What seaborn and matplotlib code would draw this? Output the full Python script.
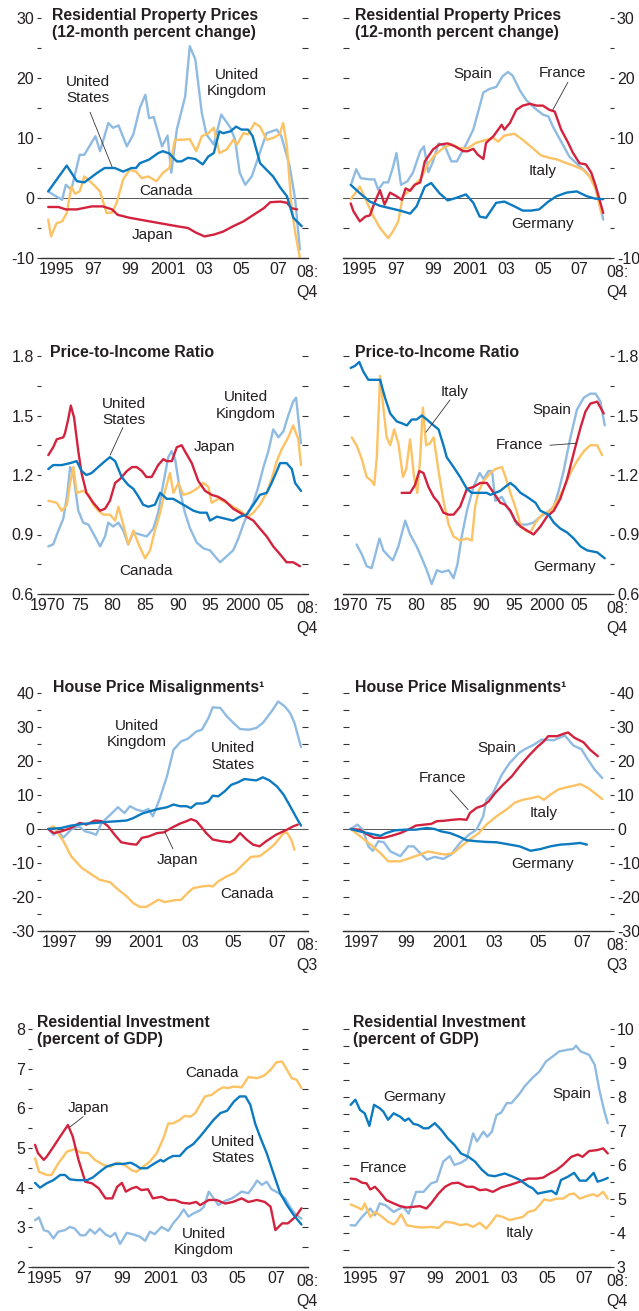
import matplotlib
matplotlib.use("Agg")
import pandas as pd
import matplotlib.pyplot as plt
import seaborn as sns
from matplotlib.ticker import MultipleLocator, NullFormatter, FormatStrFormatter

# CONFIG
W, H = 639, 1311
sns.set_theme(style="white")
plt.rcParams["font.family"] = ["Liberation Sans", "DejaVu Sans"]
plt.rcParams["axes.unicode_minus"] = False

DARK = "#0c7ac0"
LIGHT = "#8fbbe2"
RED = "#d3223e"
YELLOW = "#fcc263"
TXT = "#231f20"

# ==============================
# DATA  (year, value)
# ==============================
# Panel 1: residential property prices, 12-month % change
p1_us = [(1995.05, 1.1), (1996.05, 5.4), (1996.6, 2.8), (1997.0, 2.6), (1997.7, 4.2), (1998.1, 5.0),
         (1998.65, 5.0), (1999.1, 4.4), (1999.55, 5.0), (1999.8, 5.0), (2000.0, 5.8), (2000.5, 6.4),
         (2001.0, 7.5), (2001.25, 7.8), (2001.6, 7.4), (2002.0, 6.1), (2002.25, 6.1), (2002.6, 6.7),
         (2003.0, 6.5), (2003.4, 5.6), (2003.7, 6.9), (2004.0, 7.5), (2004.3, 11.1), (2004.5, 10.8),
         (2004.9, 11.1), (2005.2, 11.9), (2005.5, 11.4), (2005.85, 11.4), (2006.1, 10.3), (2006.5, 5.8),
         (2006.85, 4.7), (2007.2, 3.6), (2007.6, 1.7), (2007.95, 0.3), (2008.3, -3.3), (2008.75, -4.7)]
p1_uk = [(1995.05, 1.1), (1995.3, 0.6), (1995.8, -0.3), (1996.0, 2.2), (1996.3, 1.4), (1996.75, 7.2),
         (1997.0, 7.2), (1997.6, 10.3), (1997.85, 7.8), (1998.3, 12.5), (1998.55, 11.7), (1998.85, 12.1),
         (1999.3, 8.6), (1999.65, 10.6), (2000.0, 15.0), (2000.3, 17.2), (2000.5, 13.3), (2000.75, 13.5),
         (2001.2, 8.6), (2001.5, 10.4), (2001.7, 4.2), (2002.0, 11.4), (2002.45, 16.9), (2002.7, 25.3),
         (2003.0, 23.1), (2003.35, 14.2), (2003.6, 10.6), (2004.0, 8.9), (2004.4, 13.9), (2004.9, 11.7),
         (2005.15, 9.7), (2005.4, 4.2), (2005.7, 2.2), (2006.05, 3.6), (2006.85, 10.8), (2007.4, 11.4),
         (2007.65, 10.3), (2008.1, 5.3), (2008.4, -0.3), (2008.65, -8.6)]
p1_ca = [(1995.05, -3.6), (1995.2, -6.4), (1995.5, -4.2), (1995.8, -3.9), (1996.05, -2.5), (1996.3, 1.9),
         (1996.5, 0.7), (1996.75, 1.1), (1997.0, 3.6), (1997.2, 3.1), (1997.6, 1.9), (1997.85, 1.1),
         (1998.2, -2.5), (1998.5, -2.4), (1998.75, -0.8), (1999.1, 3.1), (1999.45, 4.7), (1999.8, 4.4),
         (2000.1, 3.3), (2000.45, 3.6), (2000.9, 2.8), (2001.25, 4.2), (2001.6, 5.0), (2001.9, 9.7),
         (2002.25, 9.7), (2002.7, 9.8), (2003.05, 7.8), (2003.35, 10.3), (2003.7, 10.8), (2004.0, 11.7),
         (2004.3, 7.5), (2004.7, 8.1), (2005.05, 9.7), (2005.25, 8.9), (2005.6, 10.8), (2005.85, 10.6),
         (2006.2, 12.5), (2006.5, 11.9), (2006.85, 9.7), (2007.2, 10.0), (2007.55, 10.6), (2007.75, 12.5),
         (2007.95, 8.6), (2008.2, -1.4), (2008.4, -5.8), (2008.65, -10.0)]
p1_jp = [(1995.05, -1.5), (1995.6, -1.5), (1996.0, -1.9), (1996.6, -1.9), (1997.4, -1.4), (1998.0, -1.4),
         (1998.5, -1.9), (1998.8, -2.8), (1999.45, -3.3), (2000.0, -3.6), (2000.9, -4.1), (2001.45, -4.4),
         (2002.0, -4.7), (2002.6, -5.0), (2003.05, -5.8), (2003.5, -6.4), (2004.0, -6.1), (2004.5, -5.6),
         (2005.05, -4.7), (2005.6, -3.9), (2006.15, -2.8), (2006.7, -1.7), (2007.05, -0.7), (2007.6, -0.6),
         (2007.95, -0.8), (2008.2, -1.7), (2008.5, -1.9)]

# Panel 2
p2_de = [(1995.0, 2.2), (1995.5, 0.8), (1996.05, -0.6), (1996.6, -1.3), (1997.15, -1.7), (1997.7, -2.1),
         (1998.25, -2.6), (1998.6, -1.4), (1999.05, 1.9), (1999.4, 2.5), (1999.85, 0.8), (2000.3, -0.4),
         (2000.75, 0.0), (2001.3, 0.6), (2001.7, -0.8), (2002.05, -3.1), (2002.4, -3.3), (2002.95, -0.8),
         (2003.4, -0.6), (2003.95, -1.4), (2004.4, -2.1), (2004.85, -2.1), (2005.3, -1.9), (2005.8, -0.6),
         (2006.25, 0.3), (2006.8, 0.9), (2007.35, 1.1), (2007.9, 0.3), (2008.35, -0.1), (2008.8, -0.2)]
p2_es = [(1995.05, 2.5), (1995.3, 4.8), (1995.55, 3.3), (1996.05, 3.1), (1996.3, 3.1), (1996.5, 1.4),
         (1996.8, 2.6), (1997.05, 2.6), (1997.3, 5.0), (1997.5, 7.5), (1997.75, 2.2), (1998.1, 2.8),
         (1998.4, 4.2), (1998.8, 7.8), (1999.0, 8.6), (1999.25, 4.3), (1999.5, 6.1), (1999.8, 9.1),
         (2000.15, 8.6), (2000.5, 6.1), (2000.8, 6.1), (2001.3, 8.9), (2001.7, 11.4), (2001.95, 14.2),
         (2002.25, 17.6), (2002.6, 18.2), (2002.95, 18.5), (2003.3, 20.3), (2003.6, 21.0), (2003.85, 20.4),
         (2004.25, 17.9), (2004.6, 16.3), (2005.05, 15.0), (2005.5, 13.9), (2005.8, 13.6), (2006.05, 11.9),
         (2006.5, 9.4), (2006.95, 6.9), (2007.4, 5.6), (2007.85, 4.4), (2008.25, 2.8), (2008.5, 0.3),
         (2008.8, -3.6)]
p2_fr = [(1995.0, -0.9), (1995.15, -2.2), (1995.5, -3.9), (1995.8, -3.1), (1996.05, -2.9), (1996.3, -0.8),
         (1996.6, 1.3), (1996.85, -1.1), (1997.15, 0.9), (1997.5, 0.3), (1997.8, -0.3), (1998.0, 1.6),
         (1998.25, 1.2), (1998.5, 2.2), (1998.8, 2.6), (1999.05, 6.1), (1999.5, 8.1), (1999.85, 8.9),
         (2000.3, 9.1), (2000.7, 8.6), (2001.15, 7.8), (2001.4, 7.8), (2001.7, 8.2), (2001.95, 7.2),
         (2002.25, 6.5), (2002.4, 9.2), (2002.8, 10.3), (2003.25, 12.2), (2003.4, 11.4), (2003.7, 12.5),
         (2004.05, 14.7), (2004.4, 15.4), (2004.8, 15.7), (2005.15, 15.4), (2005.5, 15.4), (2005.85, 14.7),
         (2006.15, 14.4), (2006.5, 11.4), (2006.85, 9.4), (2007.15, 7.5), (2007.5, 5.8), (2007.85, 5.6),
         (2008.15, 4.2), (2008.4, 1.9), (2008.8, -2.5)]
p2_it = [(1995.0, -0.2), (1995.25, 0.8), (1995.5, 1.9), (1995.9, -0.8), (1996.25, -3.1), (1996.6, -5.0),
         (1997.05, -6.7), (1997.3, -5.6), (1997.6, -3.9), (1997.85, 0.3), (1998.15, 1.1), (1998.5, 2.2),
         (1998.85, 3.3), (1999.25, 5.8), (1999.6, 7.2), (2000.05, 8.3), (2000.5, 9.0), (2000.95, 8.3),
         (2001.4, 8.3), (2001.85, 9.2), (2002.3, 9.6), (2002.8, 10.0), (2003.05, 9.4), (2003.4, 10.4),
         (2003.95, 10.7), (2004.4, 9.7), (2004.95, 8.3), (2005.4, 7.1), (2005.85, 6.7), (2006.3, 6.4),
         (2006.8, 5.8), (2007.25, 5.3), (2007.7, 4.7), (2008.05, 3.6), (2008.4, 1.4), (2008.7, -2.5)]

# Panel 3: price-to-income ratio
p3_us = [(1970.15, 1.23), (1970.9, 1.25), (1972.2, 1.25), (1973.5, 1.26), (1974.5, 1.27), (1975.25, 1.22),
         (1976.0, 1.20), (1976.8, 1.21), (1977.8, 1.24), (1978.85, 1.27), (1979.6, 1.29), (1980.4, 1.27),
         (1981.4, 1.19), (1982.4, 1.15), (1983.2, 1.13), (1984.0, 1.09), (1984.7, 1.05), (1985.5, 1.04),
         (1986.5, 1.05), (1987.3, 1.11), (1988.3, 1.08), (1989.3, 1.08), (1990.35, 1.06), (1991.4, 1.04),
         (1992.4, 1.02), (1993.4, 1.01), (1994.45, 1.01), (1994.95, 0.97), (1996.0, 0.99), (1997.25, 0.98),
         (1998.5, 0.97), (1999.55, 0.99), (2000.55, 1.0), (2001.6, 1.05), (2002.6, 1.10), (2003.65, 1.11),
         (2004.4, 1.16), (2005.2, 1.22), (2005.7, 1.26), (2006.7, 1.26), (2007.5, 1.23), (2008.0, 1.16),
         (2008.9, 1.12)]
p3_jp = [(1970.15, 1.30), (1970.9, 1.34), (1971.45, 1.38), (1972.45, 1.39), (1972.7, 1.41), (1973.2, 1.48),
         (1973.6, 1.55), (1974.1, 1.49), (1974.75, 1.32), (1975.25, 1.21), (1976.0, 1.11), (1977.05, 1.06),
         (1978.1, 1.02), (1978.85, 1.03), (1979.6, 1.07), (1980.4, 1.16), (1981.15, 1.18), (1982.2, 1.22),
         (1983.0, 1.24), (1983.7, 1.24), (1984.5, 1.22), (1985.2, 1.19), (1986.0, 1.19), (1987.0, 1.25),
         (1987.8, 1.28), (1988.3, 1.27), (1989.1, 1.27), (1989.85, 1.34), (1990.6, 1.35), (1991.1, 1.32),
         (1992.15, 1.26), (1993.15, 1.17), (1994.2, 1.12), (1995.2, 1.10), (1996.2, 1.09), (1997.25, 1.07),
         (1998.5, 1.03), (1999.55, 1.01), (2000.55, 0.99), (2001.6, 0.97), (2002.6, 0.93), (2003.65, 0.89),
         (2004.65, 0.84), (2005.7, 0.80), (2006.7, 0.76), (2007.7, 0.76), (2008.75, 0.74)]
p3_ca = [(1970.15, 1.07), (1971.45, 1.06), (1972.2, 1.02), (1973.0, 1.05), (1973.5, 1.16), (1974.0, 1.24),
         (1974.5, 1.11), (1975.5, 1.12), (1976.3, 1.10), (1977.05, 1.05), (1977.8, 1.02), (1978.6, 1.0),
         (1979.6, 1.0), (1980.4, 0.97), (1980.9, 1.04), (1981.65, 0.95), (1982.4, 0.85), (1983.2, 0.92),
         (1984.0, 0.85), (1985.0, 0.78), (1985.75, 0.82), (1986.5, 0.92), (1987.3, 1.01), (1988.05, 1.12),
         (1988.8, 1.21), (1989.35, 1.11), (1990.1, 1.16), (1990.85, 1.10), (1991.9, 1.11), (1992.9, 1.13),
         (1993.95, 1.16), (1994.7, 1.14), (1995.2, 1.06), (1996.25, 1.08), (1997.5, 1.06), (1998.5, 1.04),
         (1999.55, 1.02), (2000.8, 0.99), (2001.6, 1.01), (2002.6, 1.05), (2003.65, 1.11), (2004.4, 1.18),
         (2005.2, 1.27), (2005.95, 1.33), (2006.95, 1.39), (2007.7, 1.45), (2008.5, 1.38), (2008.9, 1.25)]
p3_uk = [(1970.15, 0.84), (1970.9, 0.85), (1971.7, 0.92), (1972.45, 0.98), (1973.0, 1.09), (1973.5, 1.24),
         (1974.0, 1.20), (1974.75, 1.02), (1975.5, 0.96), (1976.3, 0.95), (1977.3, 0.89), (1978.1, 0.84),
         (1978.85, 0.89), (1979.35, 0.96), (1980.1, 0.94), (1980.9, 0.96), (1981.65, 0.92), (1982.4, 0.85),
         (1983.2, 0.91), (1984.2, 0.90), (1985.25, 0.89), (1986.25, 0.93), (1987.0, 1.01), (1987.8, 1.16),
         (1988.55, 1.29), (1989.05, 1.32), (1989.6, 1.28), (1990.35, 1.12), (1991.1, 1.01), (1991.9, 0.93),
         (1992.9, 0.86), (1993.95, 0.83), (1994.95, 0.82), (1995.7, 0.79), (1996.5, 0.76), (1997.5, 0.79),
         (1998.5, 0.82), (1999.3, 0.88), (2000.05, 0.95), (2000.8, 1.01), (2001.6, 1.06), (2002.35, 1.14),
         (2003.15, 1.24), (2003.9, 1.32), (2004.65, 1.43), (2005.45, 1.39), (2006.2, 1.42), (2006.95, 1.50),
         (2007.7, 1.57), (2008.15, 1.59), (2008.9, 1.36)]

# Panel 4
p4_de = [(1970.0, 1.74), (1970.65, 1.75), (1971.3, 1.77), (1971.95, 1.72), (1972.7, 1.68), (1973.5, 1.68),
         (1974.0, 1.68), (1974.5, 1.68), (1975.25, 1.59), (1976.05, 1.51), (1977.05, 1.47), (1977.9, 1.46),
         (1978.6, 1.45), (1979.35, 1.48), (1980.1, 1.48), (1980.9, 1.50), (1981.65, 1.48), (1982.7, 1.45),
         (1983.45, 1.43), (1984.2, 1.35), (1984.7, 1.29), (1985.75, 1.24), (1986.75, 1.19), (1987.8, 1.13),
         (1988.55, 1.11), (1989.6, 1.11), (1990.85, 1.11), (1991.4, 1.10), (1992.15, 1.11), (1992.9, 1.12),
         (1993.65, 1.14), (1994.45, 1.16), (1995.2, 1.14), (1996.0, 1.11), (1997.0, 1.09), (1998.3, 1.06),
         (1999.05, 1.02), (2000.3, 1.0), (2001.1, 0.96), (2002.1, 0.93), (2003.15, 0.91), (2004.15, 0.88),
         (2005.2, 0.84), (2006.2, 0.82), (2007.75, 0.81), (2008.9, 0.78)]
p4_it = [(1970.15, 1.39), (1970.9, 1.35), (1971.7, 1.28), (1972.45, 1.19), (1973.2, 1.17), (1973.6, 1.15),
         (1974.0, 1.29), (1974.5, 1.70), (1975.0, 1.54), (1975.5, 1.39), (1976.05, 1.35), (1976.65, 1.43),
         (1977.3, 1.36), (1978.0, 1.19), (1978.5, 1.23), (1979.1, 1.38), (1979.7, 1.19), (1980.2, 1.11),
         (1980.65, 1.29), (1981.05, 1.54), (1981.55, 1.35), (1982.15, 1.36), (1982.7, 1.39), (1983.45, 1.22),
         (1984.2, 1.07), (1985.0, 0.95), (1985.75, 0.89), (1986.75, 0.87), (1987.8, 0.88), (1988.55, 0.87),
         (1989.05, 1.04), (1989.6, 1.12), (1990.35, 1.17), (1991.4, 1.21), (1992.15, 1.23), (1993.15, 1.24),
         (1993.7, 1.19), (1994.45, 1.11), (1995.2, 1.04), (1996.0, 0.95), (1996.75, 0.92), (1997.5, 0.91),
         (1998.3, 0.96), (1999.3, 1.0), (2000.6, 1.02), (2001.6, 1.07), (2002.6, 1.13), (2003.65, 1.21),
         (2004.65, 1.27), (2005.7, 1.32), (2006.7, 1.35), (2007.75, 1.35), (2008.5, 1.30)]
p4_fr = [(1977.8, 1.11), (1978.6, 1.11), (1979.1, 1.11), (1979.85, 1.15), (1980.5, 1.22), (1981.15, 1.21),
         (1981.9, 1.14), (1982.7, 1.09), (1983.45, 1.06), (1984.2, 1.01), (1985.0, 1.0), (1985.75, 1.0),
         (1986.75, 1.04), (1987.8, 1.13), (1988.8, 1.14), (1989.85, 1.16), (1990.85, 1.16), (1991.9, 1.11),
         (1992.9, 1.06), (1993.65, 1.05), (1994.45, 1.02), (1995.2, 0.97), (1996.0, 0.94), (1997.0, 0.92),
         (1998.0, 0.90), (1999.05, 0.94), (2000.05, 0.99), (2001.1, 1.02), (2002.1, 1.08), (2003.15, 1.18),
         (2004.15, 1.31), (2005.2, 1.44), (2005.95, 1.52), (2006.7, 1.56), (2007.75, 1.57), (2008.75, 1.51)]
p4_es = [(1970.9, 0.85), (1971.7, 0.80), (1972.45, 0.74), (1973.2, 0.73), (1973.7, 0.79), (1974.4, 0.88),
         (1975.0, 0.82), (1975.8, 0.79), (1976.45, 0.77), (1977.3, 0.84), (1978.35, 0.97), (1979.1, 0.90),
         (1980.1, 0.84), (1980.9, 0.78), (1981.65, 0.72), (1982.4, 0.65), (1983.2, 0.72), (1983.95, 0.71),
         (1985.0, 0.72), (1985.75, 0.68), (1986.35, 0.75), (1987.0, 0.89), (1987.8, 1.02), (1988.8, 1.14),
         (1989.75, 1.21), (1990.35, 1.18), (1991.1, 1.22), (1991.65, 1.22), (1992.15, 1.07), (1993.15, 1.09),
         (1993.95, 1.04), (1994.7, 1.0), (1995.45, 0.95), (1996.25, 0.95), (1997.0, 0.95), (1998.0, 0.96),
         (1999.05, 0.99), (2000.05, 1.01), (2001.1, 1.04), (2001.85, 1.12), (2002.6, 1.22), (2003.65, 1.39),
         (2004.65, 1.53), (2005.7, 1.59), (2006.7, 1.61), (2007.5, 1.61), (2008.25, 1.57), (2008.9, 1.45)]

# Panel 5: house price misalignments
p5_uk = [(1997.0, 0.0), (1997.25, -1.7), (1997.45, -0.7), (1997.7, -2.5), (1998.05, -0.2), (1998.4, 0.8),
         (1998.7, -0.7), (1999.0, -1.2), (1999.2, -1.7), (1999.45, 1.8), (1999.85, 4.2), (2000.2, 6.4),
         (2000.5, 4.7), (2000.75, 6.7), (2001.05, 5.7), (2001.35, 5.2), (2001.6, 5.9), (2001.8, 3.7),
         (2002.1, 8.6), (2002.45, 15.5), (2002.75, 23.3), (2003.1, 25.8), (2003.4, 26.5), (2003.8, 28.7),
         (2004.05, 29.2), (2004.35, 32.6), (2004.55, 35.8), (2004.9, 35.6), (2005.2, 33.1), (2005.5, 31.2),
         (2005.8, 29.4), (2006.2, 29.2), (2006.55, 29.7), (2006.85, 31.2), (2007.25, 34.6), (2007.55, 37.5),
         (2007.85, 36.1), (2008.1, 34.1), (2008.3, 31.2), (2008.6, 24.1)]
p5_us = [(1997.0, 0.0), (1997.6, 0.3), (1998.05, 1.0), (1998.6, 1.5), (1999.2, 1.8), (1999.7, 2.1),
         (2000.2, 2.3), (2000.6, 2.5), (2000.9, 3.2), (2001.3, 4.5), (2001.65, 5.2), (2002.05, 5.9),
         (2002.45, 6.4), (2002.75, 7.2), (2003.05, 6.7), (2003.35, 6.7), (2003.55, 6.2), (2003.8, 7.5),
         (2004.1, 7.5), (2004.35, 8.1), (2004.55, 9.8), (2004.8, 9.6), (2005.1, 11.1), (2005.4, 13.0),
         (2005.7, 13.7), (2006.0, 14.7), (2006.25, 14.5), (2006.55, 14.3), (2006.85, 15.2), (2007.15, 14.3),
         (2007.5, 12.5), (2007.8, 10.1), (2008.1, 6.7), (2008.4, 3.2), (2008.6, 1.0)]
p5_jp = [(1997.0, 0.0), (1997.25, -1.2), (1997.6, -0.7), (1998.05, 0.3), (1998.45, 1.8), (1998.75, 1.3),
         (1999.15, 2.5), (1999.45, 2.3), (1999.75, 0.8), (2000.05, -1.7), (2000.35, -3.9), (2000.75, -4.4),
         (2001.05, -4.6), (2001.3, -2.6), (2001.6, -2.2), (2002.0, -1.2), (2002.3, -1.0), (2002.65, 0.3),
         (2003.05, 1.6), (2003.35, 2.3), (2003.55, 2.9), (2003.8, 2.3), (2004.0, 0.8), (2004.25, -1.2),
         (2004.55, -3.1), (2004.95, -3.6), (2005.35, -3.9), (2005.55, -3.1), (2005.8, -1.2), (2006.1, -3.1),
         (2006.4, -4.6), (2006.7, -5.1), (2007.0, -3.6), (2007.45, -1.7), (2007.95, -0.2), (2008.25, 0.8),
         (2008.45, 1.3)]
p5_ca = [(1997.0, 0.0), (1997.25, 0.8), (1997.45, -1.2), (1997.7, -3.6), (1998.05, -8.0), (1998.55, -11.5),
         (1999.0, -13.4), (1999.35, -14.9), (1999.85, -15.7), (2000.2, -17.8), (2000.6, -19.8), (2000.9, -21.8),
         (2001.2, -22.9), (2001.5, -22.9), (2001.8, -21.8), (2002.05, -20.8), (2002.35, -21.5), (2002.75, -21.0),
         (2003.1, -20.8), (2003.4, -18.8), (2003.65, -17.4), (2004.05, -16.9), (2004.35, -16.7), (2004.55, -16.9),
         (2004.8, -15.4), (2005.2, -13.9), (2005.55, -12.9), (2005.85, -11.0), (2006.3, -8.2), (2006.7, -8.0),
         (2007.1, -6.1), (2007.4, -4.4), (2007.8, -1.2), (2007.95, -1.0), (2008.15, -3.1), (2008.3, -6.1)]

# Panel 6
p6_de = [(1997.0, 0.0), (1997.4, -0.7), (1997.9, -1.4), (1998.35, -2.0), (1998.6, -1.2), (1999.0, -0.4),
         (1999.45, -0.2), (1999.95, -0.2), (2000.45, 0.3), (2000.8, 0.0), (2001.1, -0.7), (2001.5, -1.2),
         (2001.9, -2.2), (2002.25, -3.3), (2002.7, -3.6), (2003.15, -3.8), (2003.6, -3.9), (2004.05, -4.4),
         (2004.65, -5.1), (2005.15, -6.4), (2005.6, -5.9), (2006.05, -5.1), (2006.5, -4.6), (2006.95, -4.4),
         (2007.4, -4.1), (2007.7, -4.6)]
p6_fr = [(1997.0, 0.0), (1997.4, -0.2), (1997.7, -1.4), (1998.05, -2.6), (1998.5, -2.6), (1998.85, -2.0),
         (1999.25, -1.2), (1999.6, -0.2), (1999.95, 1.0), (2000.35, 1.3), (2000.65, 1.5), (2000.9, 2.3),
         (2001.2, 2.4), (2001.6, 2.7), (2001.95, 2.9), (2002.25, 2.7), (2002.4, 4.7), (2002.7, 6.2),
         (2003.0, 6.9), (2003.25, 8.1), (2003.55, 10.6), (2003.9, 13.0), (2004.3, 15.5), (2004.65, 18.4),
         (2005.05, 21.4), (2005.45, 24.1), (2005.75, 25.8), (2005.95, 27.3), (2006.35, 27.3), (2006.65, 28.0),
         (2006.85, 28.4), (2007.15, 26.8), (2007.55, 25.5), (2007.85, 23.3), (2008.2, 21.4)]
p6_es = [(1997.0, 0.0), (1997.3, 1.3), (1997.55, -0.2), (1997.8, -5.1), (1998.0, -6.4), (1998.25, -3.6),
         (1998.5, -3.9), (1998.8, -6.6), (1999.25, -8.0), (1999.6, -5.1), (1999.85, -5.1), (2000.15, -7.1),
         (2000.45, -9.0), (2000.8, -8.2), (2001.2, -8.8), (2001.55, -7.5), (2001.95, -4.1), (2002.35, -1.7),
         (2002.7, -0.2), (2003.0, 3.7), (2003.15, 8.6), (2003.45, 10.6), (2003.85, 16.0), (2004.2, 19.4),
         (2004.65, 22.5), (2004.9, 23.5), (2005.3, 24.8), (2005.65, 26.3), (2006.2, 26.1), (2006.7, 27.5),
         (2007.1, 24.5), (2007.45, 23.5), (2007.75, 20.4), (2008.05, 17.5), (2008.4, 15.0)]
p6_it = [(1997.0, 0.0), (1997.4, -2.0), (1997.9, -4.6), (1998.35, -7.1), (1998.7, -9.5), (1999.25, -9.5),
         (1999.7, -8.5), (2000.15, -7.5), (2000.5, -6.6), (2000.9, -7.1), (2001.25, -7.5), (2001.65, -7.1),
         (2002.0, -5.1), (2002.4, -3.1), (2002.8, -1.2), (2003.15, 1.3), (2003.6, 3.7), (2004.05, 5.7),
         (2004.45, 7.8), (2004.8, 8.6), (2005.2, 9.1), (2005.5, 9.6), (2005.75, 8.6), (2006.05, 10.1),
         (2006.4, 11.6), (2006.8, 12.3), (2007.1, 12.7), (2007.4, 13.2), (2007.75, 12.1), (2008.05, 10.6),
         (2008.4, 8.8)]

# Panel 7: residential investment, percent of GDP
p7_jp = [(1995.0, 5.08), (1995.15, 4.87), (1995.45, 4.70), (1995.6, 4.78), (1995.95, 5.03), (1996.3, 5.29),
         (1996.7, 5.58), (1996.95, 5.29), (1997.25, 4.70), (1997.6, 4.15), (1997.95, 4.11), (1998.3, 3.98),
         (1998.65, 3.73), (1999.0, 3.73), (1999.25, 4.02), (1999.5, 4.12), (1999.7, 3.90), (2000.0, 3.98),
         (2000.25, 4.02), (2000.5, 3.94), (2000.85, 3.96), (2001.1, 3.73), (2001.55, 3.77), (2001.9, 3.69),
         (2002.25, 3.69), (2002.6, 3.62), (2003.0, 3.60), (2003.35, 3.64), (2003.55, 3.56), (2004.0, 3.69),
         (2004.4, 3.69), (2004.85, 3.60), (2005.25, 3.64), (2005.7, 3.73), (2006.05, 3.64), (2006.5, 3.69),
         (2006.9, 3.64), (2007.2, 3.52), (2007.45, 2.93), (2007.8, 3.10), (2008.1, 3.10), (2008.5, 3.27),
         (2008.8, 3.48)]
p7_ca = [(1995.0, 4.74), (1995.2, 4.40), (1995.6, 4.32), (1995.85, 4.32), (1996.2, 4.61), (1996.65, 4.91),
         (1997.05, 4.97), (1997.4, 4.88), (1997.75, 4.87), (1998.1, 4.70), (1998.55, 4.57), (1998.9, 4.53),
         (1999.25, 4.63), (1999.65, 4.57), (2000.0, 4.44), (2000.25, 4.40), (2000.6, 4.53), (2000.95, 4.66),
         (2001.3, 4.87), (2001.65, 5.25), (2001.9, 5.62), (2002.15, 5.62), (2002.5, 5.71), (2002.75, 5.81),
         (2003.05, 5.79), (2003.3, 5.88), (2003.55, 6.09), (2003.8, 6.30), (2004.15, 6.34), (2004.5, 6.47),
         (2004.75, 6.53), (2005.0, 6.51), (2005.3, 6.55), (2005.7, 6.53), (2006.05, 6.79), (2006.5, 6.76),
         (2006.85, 6.82), (2007.2, 6.97), (2007.5, 7.16), (2007.8, 7.18), (2008.05, 6.97), (2008.3, 6.76),
         (2008.55, 6.72), (2008.8, 6.51)]
p7_us = [(1995.0, 4.12), (1995.25, 4.0), (1995.6, 4.11), (1995.95, 4.19), (1996.3, 4.32), (1996.55, 4.32),
         (1996.8, 4.21), (1997.15, 4.19), (1997.7, 4.19), (1998.0, 4.26), (1998.35, 4.40), (1998.7, 4.53),
         (1999.15, 4.60), (1999.6, 4.60), (1999.95, 4.63), (2000.2, 4.57), (2000.45, 4.49), (2000.8, 4.49),
         (2001.15, 4.60), (2001.5, 4.70), (2001.65, 4.66), (2001.9, 4.74), (2002.15, 4.80), (2002.5, 4.80),
         (2002.85, 4.99), (2003.2, 5.10), (2003.55, 5.29), (2003.9, 5.50), (2004.25, 5.71), (2004.6, 5.88),
         (2004.95, 5.94), (2005.3, 6.17), (2005.6, 6.30), (2005.9, 6.30), (2006.15, 6.09), (2006.4, 5.62),
         (2006.65, 5.29), (2007.0, 4.87), (2007.35, 4.36), (2007.7, 3.86), (2008.05, 3.56), (2008.4, 3.31),
         (2008.8, 3.07)]
p7_uk = [(1995.0, 3.18), (1995.2, 3.25), (1995.45, 2.93), (1995.7, 2.89), (1995.95, 2.72), (1996.2, 2.89),
         (1996.55, 2.93), (1996.8, 3.01), (1997.05, 2.97), (1997.35, 2.80), (1997.6, 2.80), (1997.85, 2.95),
         (1998.1, 2.84), (1998.35, 2.97), (1998.65, 2.82), (1998.9, 2.76), (1999.15, 2.86), (1999.4, 2.58),
         (1999.75, 2.86), (2000.1, 2.82), (2000.45, 2.76), (2000.7, 2.66), (2000.95, 2.89), (2001.2, 2.83),
         (2001.55, 3.01), (2001.9, 2.91), (2002.15, 3.10), (2002.45, 3.27), (2002.7, 3.45), (2002.95, 3.27),
         (2003.2, 3.35), (2003.55, 3.43), (2003.75, 3.52), (2004.0, 3.90), (2004.25, 3.73), (2004.5, 3.56),
         (2004.85, 3.67), (2005.2, 3.73), (2005.45, 3.81), (2005.7, 3.90), (2006.05, 3.86), (2006.3, 4.02),
         (2006.5, 4.18), (2006.75, 4.07), (2007.0, 4.15), (2007.25, 3.96), (2007.6, 3.87), (2007.95, 3.73),
         (2008.2, 3.52), (2008.45, 3.35), (2008.8, 3.22)]

# Panel 8
p8_de = [(1995.0, 7.77), (1995.25, 7.92), (1995.5, 7.62), (1995.75, 7.52), (1996.0, 7.15), (1996.25, 7.77),
         (1996.55, 7.67), (1996.75, 7.57), (1997.0, 7.33), (1997.3, 7.52), (1997.65, 7.42), (1997.9, 7.30),
         (1998.1, 7.37), (1998.35, 7.21), (1998.6, 7.18), (1998.9, 7.08), (1999.15, 7.08), (1999.5, 7.23),
         (1999.85, 7.03), (2000.2, 6.78), (2000.55, 6.59), (2000.9, 6.34), (2001.3, 6.24), (2001.65, 6.10),
         (2002.0, 5.87), (2002.35, 5.70), (2002.7, 5.67), (2003.25, 5.75), (2003.7, 5.65), (2004.05, 5.56),
         (2004.5, 5.38), (2004.75, 5.31), (2005.0, 5.16), (2005.45, 5.21), (2005.75, 5.24), (2006.0, 5.14),
         (2006.25, 5.56), (2006.6, 5.65), (2006.95, 5.77), (2007.25, 5.54), (2007.6, 5.54), (2008.0, 5.77),
         (2008.2, 5.51), (2008.5, 5.56), (2008.75, 5.62)]
p8_es = [(1995.0, 4.23), (1995.25, 4.22), (1995.6, 4.47), (1996.05, 4.72), (1996.3, 4.52), (1996.55, 4.87),
         (1996.85, 4.82), (1997.3, 4.62), (1997.8, 4.77), (1998.1, 4.57), (1998.5, 5.21), (1998.9, 5.21),
         (1999.3, 5.46), (1999.6, 5.51), (1999.95, 6.10), (2000.3, 6.26), (2000.55, 6.0), (2000.9, 6.07),
         (2001.2, 6.17), (2001.55, 6.93), (2001.75, 6.69), (2002.1, 6.98), (2002.3, 6.83), (2002.55, 6.98),
         (2002.8, 7.47), (2003.05, 7.54), (2003.35, 7.82), (2003.6, 7.82), (2004.05, 8.11), (2004.3, 8.31),
         (2004.75, 8.58), (2005.1, 8.75), (2005.45, 9.05), (2005.8, 9.19), (2006.15, 9.34), (2006.6, 9.39),
         (2006.9, 9.41), (2007.05, 9.51), (2007.3, 9.34), (2007.75, 9.24), (2008.05, 8.95), (2008.3, 8.21),
         (2008.55, 7.62), (2008.75, 7.23)]
p8_fr = [(1995.0, 5.60), (1995.3, 5.58), (1995.6, 5.48), (1995.85, 5.46), (1996.05, 5.28), (1996.3, 5.36),
         (1996.55, 5.21), (1996.9, 4.97), (1997.3, 4.87), (1997.65, 4.79), (1998.0, 4.75), (1998.35, 4.77),
         (1998.7, 4.79), (1999.05, 4.72), (1999.3, 4.87), (1999.7, 5.16), (2000.05, 5.36), (2000.4, 5.46),
         (2000.75, 5.48), (2001.2, 5.36), (2001.55, 5.36), (2001.9, 5.26), (2002.25, 5.28), (2002.6, 5.21),
         (2003.05, 5.34), (2003.5, 5.41), (2004.05, 5.51), (2004.5, 5.60), (2004.95, 5.60), (2005.3, 5.63),
         (2005.65, 5.75), (2006.0, 5.85), (2006.35, 6.0), (2006.8, 6.24), (2007.15, 6.31), (2007.4, 6.24),
         (2007.75, 6.41), (2008.2, 6.44), (2008.5, 6.49), (2008.75, 6.34)]
p8_it = [(1995.0, 4.84), (1995.3, 4.77), (1995.6, 4.69), (1995.75, 4.87), (1996.05, 4.47), (1996.3, 4.62),
         (1996.65, 4.49), (1997.0, 4.33), (1997.3, 4.25), (1997.45, 4.33), (1997.7, 4.55), (1998.0, 4.23),
         (1998.45, 4.18), (1998.9, 4.16), (1999.25, 4.18), (1999.7, 4.15), (2000.05, 4.33), (2000.5, 4.30),
         (2000.85, 4.23), (2001.2, 4.26), (2001.55, 4.18), (2001.9, 4.30), (2002.25, 4.13), (2002.55, 4.33),
         (2002.8, 4.52), (2003.15, 4.47), (2003.5, 4.38), (2003.85, 4.43), (2004.2, 4.47), (2004.5, 4.62),
         (2004.85, 4.67), (2005.1, 4.82), (2005.35, 4.99), (2005.65, 4.95), (2006.0, 5.01), (2006.35, 5.01),
         (2006.7, 5.14), (2006.95, 5.16), (2007.25, 5.01), (2007.6, 5.08), (2007.95, 5.14), (2008.2, 5.08),
         (2008.5, 5.21), (2008.75, 5.01)]

# tick labels
yr_pos_95 = [1995.5, 1997.5, 1999.5, 2001.5, 2003.5, 2005.5, 2007.5]
yr_lab_95 = ["1995", "97", "99", "2001", "03", "05", "07"]
yr_pos_97 = [1997.5, 1999.5, 2001.5, 2003.5, 2005.5, 2007.5]
yr_lab_97 = ["1997", "99", "2001", "03", "05", "07"]
yr_pos_70 = [1970, 1975, 1980, 1985, 1990, 1995, 2000, 2005]
yr_lab_70 = ["1970", "75", "80", "85", "90", "95", "2000", "05"]

TITLE_PRICES = "Residential Property Prices\n(12-month percent change)"
TITLE_RATIO = "Price-to-Income Ratio"
TITLE_MIS = "House Price Misalignments\u00b9"
TITLE_INV = "Residential Investment\n(percent of GDP)"

# ==============================
# PANELS
# ==============================
panels = [
    dict(rect=(41, 18, 308, 258), xlim=(1994.66, 2009.09), ylim=(-10, 30), ystep=10, yfmt="%d", side="left",
         series=[("United Kingdom", p1_uk, LIGHT), ("Canada", p1_ca, YELLOW), ("Japan", p1_jp, RED),
                 ("United States", p1_us, DARK)],
         labels=[("United\nStates", 1997.2, 18.0), ("United\nKingdom", 2005.25, 19.2),
                 ("Canada", 2001.42, 1.2), ("Japan", 2000.7, -6.2)],
         leaders=[((1997.31, 14.3), (1998.5, 5.2))],
         xmaj=list(range(1995, 2009)), xlab=(yr_pos_95, yr_lab_95, False), last="08:\nQ4", zero=True,
         title=(TITLE_PRICES, 52, 8)),
    dict(rect=(343, 18, 610, 258), xlim=(1994.58, 2009.17), ylim=(-10, 30), ystep=10, yfmt="%d", side="right",
         series=[("Spain", p2_es, LIGHT), ("Italy", p2_it, YELLOW), ("France", p2_fr, RED),
                 ("Germany", p2_de, DARK)],
         labels=[("Spain", 2001.68, 20.7), ("France", 2006.6, 20.8), ("Italy", 2005.5, 4.5),
                 ("Germany", 2005.5, -4.3)],
         leaders=[((2006.87, 19.3), (2006.05, 14.7))],
         xmaj=list(range(1995, 2009)), xlab=(yr_pos_95, yr_lab_95, False), last="08:\nQ4", zero=True,
         title=(TITLE_PRICES, 355, 8)),
    dict(rect=(41, 356, 308, 594), xlim=(1969.03, 2009.98), ylim=(0.6, 1.8), ystep=0.3, yfmt="%.1f", side="left",
         series=[("United Kingdom", p3_uk, LIGHT), ("Canada", p3_ca, YELLOW), ("Japan", p3_jp, RED),
                 ("United States", p3_us, DARK)],
         labels=[("United\nStates", 1981.76, 1.517), ("United\nKingdom", 2000.5, 1.55),
                 ("Japan", 1995.7, 1.34), ("Canada", 1985.1, 0.714)],
         leaders=[((1981.6, 1.44), (1979.63, 1.30))],
         xmaj=yr_pos_70, xlab=(yr_pos_70, yr_lab_70, True), last="08:\nQ4", zero=False,
         title=(TITLE_RATIO, 50, 345)),
    dict(rect=(343, 356, 610, 594), xlim=(1968.82, 2009.71), ylim=(0.6, 1.8), ystep=0.3, yfmt="%.1f", side="right",
         series=[("Spain", p4_es, LIGHT), ("Italy", p4_it, YELLOW), ("France", p4_fr, RED),
                 ("Germany", p4_de, DARK)],
         labels=[("Italy", 1985.97, 1.618), ("Spain", 2000.83, 1.527), ("France", 1995.9, 1.35),
                 ("Germany", 2002.8, 0.734)],
         leaders=[((1985.2, 1.578), (1981.53, 1.416)), ((2000.5, 1.35), (2004.6, 1.36))],
         xmaj=yr_pos_70, xlab=(yr_pos_70, yr_lab_70, True), last="08:\nQ4", zero=False,
         title=(TITLE_RATIO, 355, 345)),
    dict(rect=(41, 693, 308, 931), xlim=(1996.67, 2008.92), ylim=(-30, 40), ystep=10, yfmt="%d", side="left",
         series=[("United Kingdom", p5_uk, LIGHT), ("Canada", p5_ca, YELLOW), ("Japan", p5_jp, RED),
                 ("United States", p5_us, DARK)],
         labels=[("United\nKingdom", 2001.07, 28.0), ("United\nStates", 2005.47, 21.3),
                 ("Japan", 2002.95, -9.2), ("Canada", 2006.1, -19.0)],
         leaders=[((2002.72, -5.8), (2002.35, -0.8))],
         xmaj=list(range(1997, 2009)), xlab=(yr_pos_97, yr_lab_97, False), last="08:\nQ3", zero=True,
         title=(TITLE_MIS, 53, 680)),
    dict(rect=(343, 693, 610, 931), xlim=(1996.65, 2008.75), ylim=(-30, 40), ystep=10, yfmt="%d", side="right",
         series=[("Spain", p6_es, LIGHT), ("Italy", p6_it, YELLOW), ("France", p6_fr, RED),
                 ("Germany", p6_de, DARK)],
         labels=[("Spain", 2003.63, 23.9), ("France", 2001.14, 15.1), ("Italy", 2005.76, 4.8),
                 ("Germany", 2005.71, -10.2)],
         leaders=[((2001.5, 11.6), (2002.32, 5.7))],
         xmaj=list(range(1997, 2009)), xlab=(yr_pos_97, yr_lab_97, False), last="08:\nQ3", zero=True,
         title=(TITLE_MIS, 355, 680)),
    dict(rect=(32, 1029, 308, 1267), xlim=(1994.84, 2009.14), ylim=(2, 8), ystep=1, yfmt="%d", side="left",
         series=[("United Kingdom", p7_uk, LIGHT), ("Canada", p7_ca, YELLOW), ("Japan", p7_jp, RED),
                 ("United States", p7_us, DARK)],
         labels=[("Canada", 2004.17, 6.90), ("Japan", 1997.75, 6.02), ("United\nStates", 2005.26, 4.95),
                 ("United\nKingdom", 2003.76, 2.63)],
         leaders=[((1997.49, 5.79), (1996.81, 5.53))],
         xmaj=list(range(1995, 2009)), xlab=(yr_pos_95, yr_lab_95, False), last="08:\nQ4", zero=False,
         title=(TITLE_INV, 37, 1015)),
    dict(rect=(343, 1029, 610, 1267), xlim=(1994.59, 2008.87), ylim=(3, 10), ystep=1, yfmt="%d", side="right",
         series=[("Spain", p8_es, LIGHT), ("Italy", p8_it, YELLOW), ("France", p8_fr, RED),
                 ("Germany", p8_de, DARK)],
         labels=[("Germany", 1998.44, 8.0), ("Spain", 2006.83, 8.09), ("France", 1996.73, 5.91),
                 ("Italy", 2004.05, 3.99)],
         leaders=[],
         xmaj=list(range(1995, 2009)), xlab=(yr_pos_95, yr_lab_95, False), last="08:\nQ4", zero=False,
         title=(TITLE_INV, 353, 1015)),
]

# ==============================
# DRAW
# ==============================
fig = plt.figure(figsize=(W / 100, H / 100), dpi=100)
fig.patch.set_facecolor("white")


def draw_panel(cfg):
    x0, y0, x1, y1 = cfg["rect"]
    ax = fig.add_axes([x0 / W, 1 - y1 / H, (x1 - x0) / W, (y1 - y0) / H])
    ax.set_facecolor("none")

    rows = []
    for name, pts, col in cfg["series"]:
        for x, y in pts:
            rows.append((name, x, y))
    df = pd.DataFrame(rows, columns=["country", "year", "value"])
    order = [s[0] for s in cfg["series"]]
    pal = {s[0]: s[2] for s in cfg["series"]}
    sns.lineplot(data=df, x="year", y="value", hue="country", hue_order=order, palette=pal,
                 estimator=None, sort=False, legend=False, linewidth=1.7, ax=ax)

    if cfg["zero"]:
        ax.axhline(0, color="#555555", lw=0.7, zorder=1)

    ax.set_xlim(*cfg["xlim"])
    ax.set_ylim(*cfg["ylim"])
    ax.set_xlabel("")
    ax.set_ylabel("")
    for s in ["top", "left", "right"]:
        ax.spines[s].set_visible(False)
    ax.spines["bottom"].set_color("#333333")
    ax.spines["bottom"].set_linewidth(1.0)

    # y axis: labelled side
    step = cfg["ystep"]
    ax.yaxis.set_major_locator(MultipleLocator(step))
    ax.yaxis.set_minor_locator(MultipleLocator(step / 2))
    ax.yaxis.set_major_formatter(FormatStrFormatter(cfg["yfmt"]))
    left = cfg["side"] == "left"
    ax.tick_params(axis="y", which="both", left=left, right=not left, labelleft=left, labelright=not left,
                   direction="out", length=3, width=0.8, color="#333333", labelsize=11.5,
                   labelcolor=TXT, pad=2)
    # y axis: opposite side, ticks only
    sec = ax.secondary_yaxis("right" if left else "left")
    sec.yaxis.set_major_locator(MultipleLocator(step / 2))
    sec.yaxis.set_major_formatter(NullFormatter())
    sec.tick_params(axis="y", which="both", direction="in", length=4, width=0.8, color="#333333")
    for s in sec.spines.values():
        s.set_visible(False)

    # x axis
    pos, lab, on_major = cfg["xlab"]
    ax.set_xticks(cfg["xmaj"])
    if on_major:
        ax.set_xticklabels(lab)
    else:
        ax.xaxis.set_major_formatter(NullFormatter())
        ax.set_xticks(pos, minor=True)
        ax.set_xticklabels(lab, minor=True)
    ax.tick_params(axis="x", which="major", direction="in", length=4, width=0.8, color="#333333",
                   labelsize=11.5, labelcolor=TXT, pad=3)
    ax.tick_params(axis="x", which="minor", length=0, labelsize=11.5, labelcolor=TXT, pad=3)
    lx = 0.957 if left else 0.986
    ax.annotate(cfg["last"], xy=(lx, 0), xycoords="axes fraction", xytext=(0, -5),
                textcoords="offset points", ha="left", va="top", fontsize=11.5, color=TXT,
                linespacing=1.4, annotation_clip=False)

    # series labels and leader lines
    for txt, x, y in cfg["labels"]:
        ax.text(x, y, txt, ha="center", va="center", fontsize=11, color=TXT, linespacing=1.2)
    for (xa, ya), (xb, yb) in cfg["leaders"]:
        ax.annotate("", xy=(xb, yb), xytext=(xa, ya),
                    arrowprops=dict(arrowstyle="-", lw=0.6, color="#333333", shrinkA=0, shrinkB=0))

    # title
    t, tx, ty = cfg["title"]
    fig.text(tx / W, 1 - ty / H, t, ha="left", va="top", fontsize=11.4, fontweight="bold",
             color=TXT, linespacing=1.2)
    return ax


for cfg in panels:
    draw_panel(cfg)

fig.savefig("out.png", dpi=100, facecolor="white")
